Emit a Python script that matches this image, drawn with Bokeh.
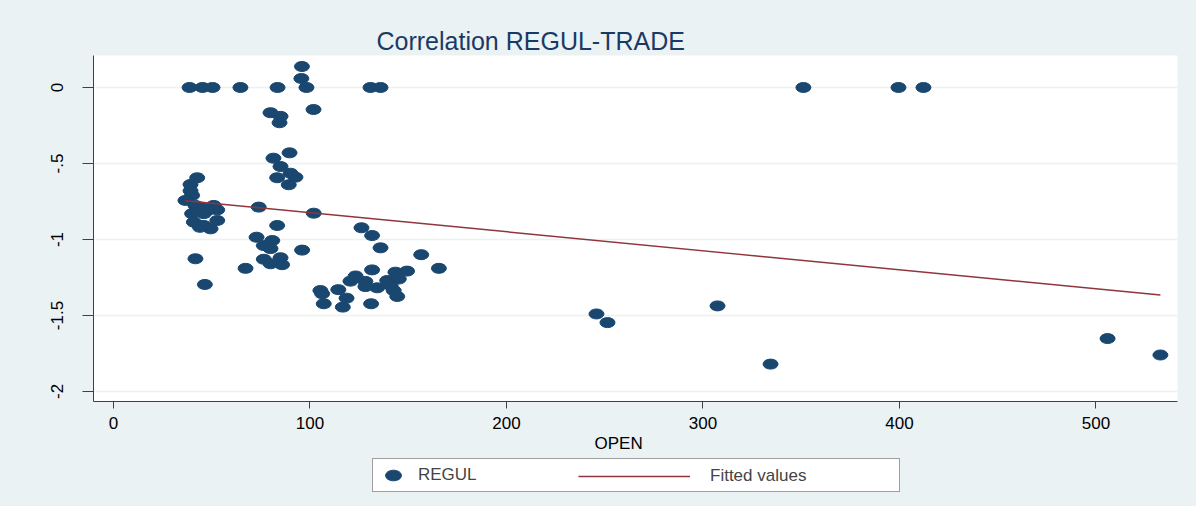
from bokeh.plotting import figure
from bokeh.layouts import column
from bokeh.models import Range1d, Legend, LegendItem, FixedTicker, Title
from bokeh.embed import file_html
from bokeh.resources import INLINE

# ---- data ----
open_vals = [38.7, 45.3, 50.4, 64.6, 83.5, 98.2, 130.8, 135.9, 351.1, 399.5, 412.2,
             95.9, 95.6, 101.8, 79.9, 85.0, 84.5,
             89.6, 81.4, 85.0, 90.1, 92.6, 83.3, 89.2,
             42.6, 39.2, 39.2, 40.0, 36.6,
             41.7, 51.0, 52.8, 40.0, 46.0, 47.7, 52.8, 40.9, 46.0, 49.4, 44.0, 44.3, 44.3,
             73.9, 101.9, 83.3, 72.8, 80.8, 76.5, 79.9, 96.0, 41.7, 76.5, 85.0, 79.9, 85.8,
             67.2, 46.5,
             126.2, 131.6, 135.9, 156.6, 165.6, 131.6, 149.4, 143.5, 123.2, 120.6, 128.2,
             139.3, 145.2, 128.2, 134.2, 141.0, 142.6, 144.4, 105.3, 106.2, 114.4, 118.6,
             107.0, 116.7, 131.1,
             245.8, 251.4, 307.4, 334.4, 505.9, 532.8]
regul_vals = [0.0, 0.0, 0.0, 0.0, 0.0, 0.0, 0.0, 0.0, 0.0, 0.0, 0.0,
              0.138, 0.059, -0.145, -0.166, -0.19, -0.232,
              -0.43, -0.465, -0.52, -0.564, -0.59, -0.594, -0.64,
              -0.594, -0.638, -0.68, -0.71, -0.743,
              -0.776, -0.776, -0.805, -0.83, -0.83, -0.81, -0.875, -0.886, -0.908, -0.93, -0.92, -0.787, -0.908,
              -0.787, -0.827, -0.908, -0.985, -1.007, -1.04, -1.06, -1.07, -1.127, -1.13, -1.12, -1.16, -1.166,
              -1.19, -1.296,
              -0.923, -0.974, -1.055, -1.1, -1.19, -1.2, -1.208, -1.215, -1.24, -1.274, -1.276,
              -1.27, -1.26, -1.31, -1.318, -1.303, -1.336, -1.375, -1.336, -1.357, -1.33, -1.386,
              -1.423, -1.445, -1.423,
              -1.49, -1.547, -1.437, -1.82, -1.652, -1.76]
fit_open = [36.6, 532.8]
fit_regul = [-0.745, -1.365]

x_ticks = [0, 100, 200, 300, 400, 500]
y_ticks = [0, -0.5, -1, -1.5, -2]
y_tick_labels = ["0", "-.5", "-1", "-1.5", "-2"]

title_text = "Correlation REGUL-TRADE"
x_title = "OPEN"
series_label = "REGUL"
fit_label = "Fitted values"

BG = "#eaf2f3"
NAVY = "#1a476f"
MAROON = "#90353b"
FONT = "Liberation Sans"
W = 1196

p = figure(width=W, height=452, output_backend="svg", toolbar_location=None,
           x_range=Range1d(-10.18, 541.5), y_range=Range1d(-2.066, 0.2105),
           min_border_left=93, min_border_right=19, min_border_top=55, min_border_bottom=51,
           background_fill_color="white", border_fill_color=BG, outline_line_color=None)

p.title.text = title_text
p.title.align = "left"
p.title.offset = 283
p.title.standoff = 2
p.title.text_font = FONT
p.title.text_font_size = "25px"
p.title.text_font_style = "normal"
p.title.text_color = "#1a3a66"

for ax in (p.xaxis[0], p.yaxis[0]):
    ax.axis_line_color = "#404040"
    ax.major_tick_line_color = "#404040"
    ax.minor_tick_line_color = None
    ax.major_tick_in = 0
    ax.major_label_text_font = FONT
    ax.major_label_text_font_size = "17px"
    ax.major_label_text_color = "black"

p.xaxis.ticker = FixedTicker(ticks=x_ticks)
p.xaxis.major_tick_out = 7
p.xaxis.major_label_standoff = 8

p.yaxis.ticker = FixedTicker(ticks=y_ticks)
p.yaxis.major_label_overrides = {t: l for t, l in zip(y_ticks, y_tick_labels)}
p.yaxis.major_label_orientation = "vertical"
p.yaxis.major_tick_out = 11
p.yaxis.major_label_standoff = 19

p.xgrid.visible = False
p.ygrid.ticker = FixedTicker(ticks=y_ticks)
p.ygrid.grid_line_color = BG
p.ygrid.grid_line_width = 1.5

p.add_layout(Title(text=x_title, align="left", offset=501, standoff=0,
                   text_font=FONT, text_font_size="17px", text_font_style="normal",
                   text_color="black"), "below")

p.ellipse(x=open_vals, y=regul_vals, width=15, height=10,
          width_units="screen", height_units="screen",
          fill_color=NAVY, line_color=NAVY)
p.line(fit_open, fit_regul, line_color=MAROON, line_width=1.5)

# ---- legend strip below the chart (same series, drawn out of view; only the legend shows) ----
lg = figure(width=W, height=54, output_backend="svg", toolbar_location=None,
            x_range=Range1d(1000, 2000), y_range=Range1d(10, 20),
            x_axis_location=None, y_axis_location=None,
            min_border_left=0, min_border_right=0, min_border_top=0, min_border_bottom=0,
            background_fill_color=BG, border_fill_color=BG, outline_line_color=None)
lg.grid.visible = False
e1 = lg.ellipse(x=open_vals, y=regul_vals, width=15, height=10,
                width_units="screen", height_units="screen",
                fill_color=NAVY, line_color=NAVY)
l1 = lg.line(fit_open, fit_regul, line_color=MAROON, line_width=1.5)

legA = Legend(items=[LegendItem(label=series_label, renderers=[e1])],
              location=(279, 14), orientation="horizontal",
              glyph_width=28, glyph_height=20, label_height=20, label_standoff=11,
              label_width=475, padding=6, margin=0,
              border_line_color="#404040", border_line_width=1,
              background_fill_color="white", background_fill_alpha=1,
              label_text_font=FONT, label_text_font_size="17px")
legB = Legend(items=[LegendItem(label=fit_label, renderers=[l1])],
              location=(479, 14), orientation="horizontal",
              glyph_width=112, glyph_height=20, label_height=20, label_standoff=20,
              padding=6, margin=0,
              border_line_alpha=0, background_fill_alpha=0,
              label_text_font=FONT, label_text_font_size="17px")
lg.add_layout(legA, "center")
lg.add_layout(legB, "center")

layout = column(p, lg, spacing=0, styles={"background-color": BG})
open("out.html", "w").write(file_html(layout, INLINE))
